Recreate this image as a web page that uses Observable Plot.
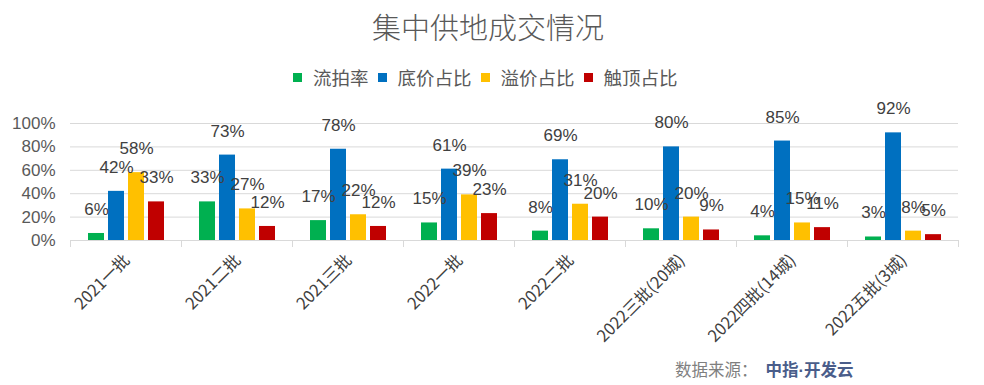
<!DOCTYPE html>
<html>
<head>
<meta charset="utf-8">
<script src="https://cdn.jsdelivr.net/npm/d3@7"></script>
<script src="https://cdn.jsdelivr.net/npm/@observablehq/plot@0.6"></script>
<style>
  html, body { margin: 0; padding: 0; background: #fff; }
  #wrap { position: relative; width: 984px; height: 385px; overflow: hidden;
          font-family: "Liberation Sans", "Noto Sans CJK SC", sans-serif; }
  #title { position: absolute; top: 5px; left: 0; width: 976px; text-align: center;
           font-family: "Noto Sans CJK SC", sans-serif; font-size: 29px; font-weight: 300; color: #595959; }
  #legend { position: absolute; top: 64px; left: 293px; display: flex; align-items: center;
            font-family: "Noto Sans CJK SC", sans-serif; font-size: 18.5px; color: #595959; white-space: nowrap; }
  #legend .sw { display: inline-block; width: 9px; height: 9px; margin-right: 11px; }
  #legend .it { display: flex; align-items: center; margin-right: 9px; }
  #chart { position: absolute; top: 92px; left: 0; }
  #source { position: absolute; top: 357px; left: 675px; font-family: "Noto Sans CJK SC", sans-serif;
            font-size: 16.5px; color: #7f7f7f; white-space: nowrap; }
  #source b { color: #4a5d8a; font-weight: 700; margin-left: 8px; }
  #source .dot { font-family: "Liberation Sans", sans-serif; }
</style>
</head>
<body>
<div id="wrap">
  <div id="title">集中供地成交情况</div>
  <div id="legend"></div>
  <div id="chart"></div>
  <div id="source">数据来源：<b>中指<span class="dot">·</span>开发云</b></div>
</div>
<script>
const categories = ["2021一批", "2021二批", "2021三批", "2022一批", "2022二批", "2022三批(20城)", "2022四批(14城)", "2022五批(3城)"];
const seriesNames = ["流拍率", "底价占比", "溢价占比", "触顶占比"];
const seriesColors = ["#00b050", "#0070c0", "#ffc000", "#c00000"];
const liupai = [6, 33, 17, 15, 8, 10, 4, 3];
const dijia = [42, 73, 78, 61, 69, 80, 85, 92];
const yijia = [58, 27, 22, 39, 31, 20, 15, 8];
const chuding = [33, 12, 12, 23, 20, 9, 11, 5];
const yTicks = [0, 20, 40, 60, 80, 100];

const seriesValues = [liupai, dijia, yijia, chuding];
const data = [];
categories.forEach((c, i) => {
  seriesNames.forEach((s, j) => data.push({cat: c, series: s, value: seriesValues[j][i]}));
});

// legend
const leg = document.getElementById("legend");
seriesNames.forEach((s, j) => {
  const it = document.createElement("span");
  it.className = "it";
  const sw = document.createElement("span");
  sw.className = "sw";
  sw.style.background = seriesColors[j];
  it.appendChild(sw);
  it.appendChild(document.createTextNode(s));
  leg.appendChild(it);
});

const grid = "#d9d9d9";
const chart = Plot.plot({
  width: 984,
  height: 293,
  marginLeft: 70,
  marginRight: 26,
  marginTop: 31,
  marginBottom: 145,
  style: {fontFamily: '"Liberation Sans", "Noto Sans CJK SC", sans-serif', fontSize: "17px", color: "#595959", overflow: "visible", background: "transparent"},
  fx: {domain: categories, padding: 0, label: null},
  x: {domain: seriesNames, paddingInner: 0.2, paddingOuter: 0.85, axis: null},
  y: {domain: [0, 100], label: null},
  color: {domain: seriesNames, range: seriesColors},
  marks: [
    Plot.gridY(yTicks.filter(d => d > 0), {stroke: grid, strokeOpacity: 1}),
    Plot.axisY(yTicks, {tickSize: 0, tickPadding: 15, tickFormat: d => d + "%", fontSize: 17, label: null}),
    Plot.ruleY([0], {stroke: grid}),
    Plot.barY(data, {fx: "cat", x: "series", y: "value", fill: "series"}),
    Plot.text(data, {fx: "cat", x: "series", y: "value", text: d => d.value + "%", dy: -24, fill: "#404040", fontSize: 17}),
    Plot.axisFx({anchor: "bottom", tickRotate: -45, tickSize: 0, tickPadding: 17, dx: 1, label: null, fontSize: 16.5, fill: "#404040", fontFamily: '"Noto Sans CJK SC", sans-serif'}),
    Plot.axisFx({anchor: "bottom", tickSize: 7, dx: -55.5, stroke: grid, fill: "none", label: null}),
    Plot.axisFx([categories[categories.length - 1]], {anchor: "bottom", tickSize: 7, dx: 55.5, stroke: grid, fill: "none", label: null})
  ]
});
document.getElementById("chart").appendChild(chart);
</script>
</body>
</html>
